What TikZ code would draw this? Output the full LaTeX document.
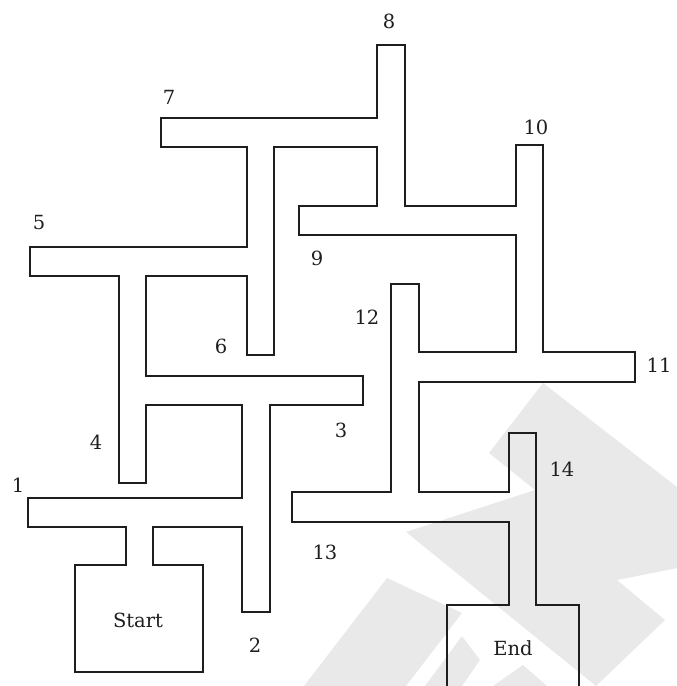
\documentclass[tikz,border=0pt]{standalone}
\usepackage{fontspec}
\setmainfont{DejaVu Serif}
\definecolor{wm}{RGB}{233,233,233}
\definecolor{ink}{RGB}{30,30,30}
\begin{document}
\begin{tikzpicture}[x=1pt,y=-1pt,
  wall/.style={line width=2pt, line join=miter, draw=ink},
  lbl/.style={font=\fontsize{19.5}{23}\selectfont, inner sep=0pt, text=ink},
  wmark/.style={fill=wm, draw=none}]
\useasboundingbox (0,0) rectangle (677,686);
% watermark
\fill[wmark] (543,383) -- (677,487) -- (677,568) -- (617,580) -- (665,620) -- (596,686) -- (406,532) -- (535,490) -- (489,453) -- cycle;
\fill[wmark] (387,578) -- (462,613) -- (406,686) -- (304,686) -- cycle;
\fill[wmark] (425,686) -- (462,636) -- (480,660) -- (462,686) -- cycle;
\fill[wmark] (523,665) -- (547,686) -- (493,686) -- cycle;
% maze walls
\draw[wall] (447,686) -- (447,605) -- (509,605) -- (509,522) -- (292,522) -- (292,492) -- (391,492) -- (391,284) -- (419,284) -- (419,352) -- (516,352) -- (516,235) -- (299,235) -- (299,206) -- (377,206) -- (377,147) -- (274,147) -- (274,355) -- (247,355) -- (247,276) -- (146,276) -- (146,376) -- (363,376) -- (363,405) -- (270,405) -- (270,612) -- (242,612) -- (242,527) -- (153,527) -- (153,565) -- (203,565) -- (203,672) -- (75,672) -- (75,565) -- (126,565) -- (126,527) -- (28,527) -- (28,498) -- (242,498) -- (242,405) -- (146,405) -- (146,483) -- (119,483) -- (119,276) -- (30,276) -- (30,247) -- (247,247) -- (247,147) -- (161,147) -- (161,118) -- (377,118) -- (377,45) -- (405,45) -- (405,206) -- (516,206) -- (516,145) -- (543,145) -- (543,352) -- (635,352) -- (635,382) -- (419,382) -- (419,492) -- (509,492) -- (509,433) -- (536,433) -- (536,605) -- (579,605) -- (579,686);
% labels
\node[lbl] (l1) at (18,485) {1};
\node[lbl] (l2) at (255,645) {2};
\node[lbl] (l3) at (341,430) {3};
\node[lbl] (l4) at (96,442) {4};
\node[lbl] (l5) at (39,223) {5};
\node[lbl] (l6) at (221,346) {6};
\node[lbl] (l7) at (169,97) {7};
\node[lbl] (l8) at (389,21) {8};
\node[lbl] (l9) at (317,258) {9};
\node[lbl] (l10) at (536,127) {10};
\node[lbl] (l11) at (659,365) {11};
\node[lbl] (l12) at (367,317) {12};
\node[lbl] (l13) at (325,552) {13};
\node[lbl] (l14) at (562,469) {14};
\node[lbl] (start) at (138,620) {Start};
\node[lbl] (end) at (513,648) {End};
\end{tikzpicture}
\end{document}
